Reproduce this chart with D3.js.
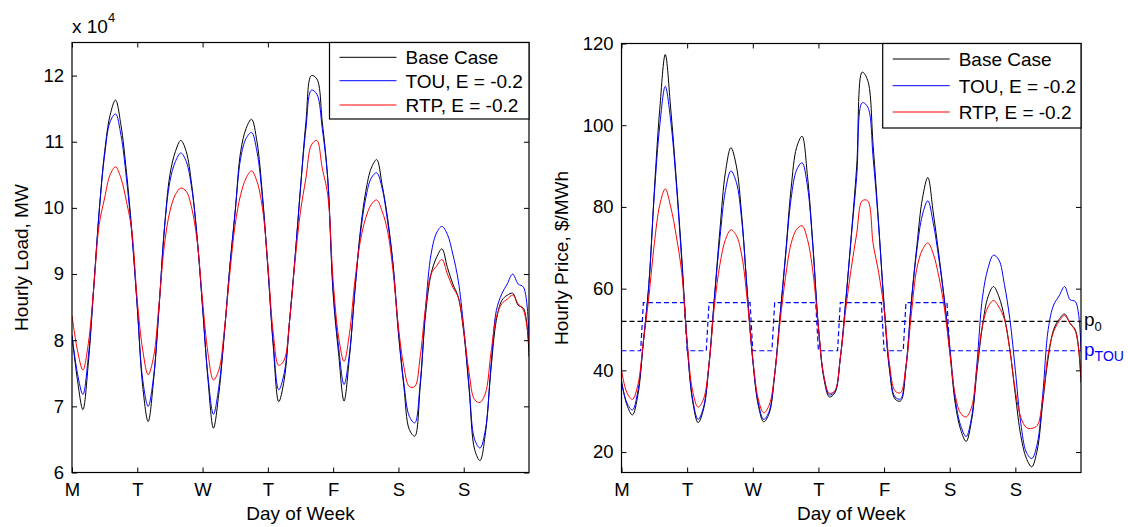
<!DOCTYPE html>
<html>
<head>
<meta charset="utf-8">
<script src="https://cdn.jsdelivr.net/npm/d3@7"></script>
<style>
  body { margin: 0; background: #fff; }
  svg text { font-family: "Liberation Sans", Arial, sans-serif; fill: #000; }
</style>
</head>
<body>
<div id="chart"></div>
<script>
var width = 1128;
var height = 527;

var dayLabels = ["M", "T", "W", "T", "F", "S", "S"];
var dayTicks = [0, 24, 48, 72, 96, 120, 144];
var hours = d3.range(0, 169, 2); // values read every 2 hours

var seriesNames = ["Base Case", "TOU, E = -0.2", "RTP, E = -0.2"];
var seriesColors = ["#000000", "#0000ff", "#ff0000"];

// hourly load, x 10^4 MW (one row per day)
var baseLoad = [
  8.07, 7.4, 6.95, 7.65, 8.8, 9.95, 10.85, 11.4, 11.63, 11.25, 10.55, 9.65,
  8.5, 7.3, 6.77, 7.4, 8.5, 9.7, 10.5, 10.85, 11.02, 10.85, 10.35, 9.55,
  8.5, 7.4, 6.67, 7.2, 8.1, 9.1, 9.95, 10.85, 11.2, 11.34, 11.0, 10.2,
  9.1, 7.9, 7.07, 7.4, 8.3, 9.25, 10.3, 11.3, 12.0, 11.95, 11.3, 10.45,
  8.7, 7.8, 7.08, 7.75, 8.75, 9.65, 10.25, 10.6, 10.73, 10.35, 9.85, 9.15,
  8.1, 7.3, 6.65, 6.55, 7.3, 8.4, 9.0, 9.25, 9.38, 9.1, 8.85, 8.65,
  8.12, 7.25, 6.35, 6.18, 6.6, 7.55, 8.3, 8.6, 8.68, 8.71, 8.53, 8.48,
  7.75
];
var touLoad = [
  8.07, 7.5, 7.18, 7.75, 8.8, 9.95, 10.8, 11.3, 11.42, 11.1, 10.45, 9.6,
  8.5, 7.4, 7.0, 7.45, 8.5, 9.7, 10.4, 10.7, 10.83, 10.7, 10.3, 9.55,
  8.5, 7.45, 6.88, 7.3, 8.1, 9.1, 9.95, 10.75, 11.05, 11.14, 10.85, 10.15,
  9.1, 7.95, 7.25, 7.5, 8.3, 9.25, 10.3, 11.2, 11.78, 11.72, 11.2, 10.45,
  8.75, 7.9, 7.33, 7.8, 8.75, 9.6, 10.15, 10.45, 10.53, 10.3, 9.8, 9.15,
  8.15, 7.35, 6.85, 6.75, 7.35, 8.5, 9.3, 9.62, 9.72, 9.6, 9.3, 8.9,
  8.2, 7.3, 6.5, 6.37, 6.65, 7.6, 8.45, 8.7, 8.85, 9.0, 8.85, 8.8,
  8.0
];
var rtpLoad = [
  8.37, 7.85, 7.55, 7.95, 8.8, 9.75, 10.15, 10.5, 10.62, 10.45, 10.1, 9.65,
  8.6, 7.85, 7.48, 7.75, 8.55, 9.45, 9.95, 10.2, 10.3, 10.25, 10.0, 9.5,
  8.6, 7.8, 7.4, 7.55, 8.15, 9.0, 9.75, 10.2, 10.45, 10.56, 10.4, 10.0,
  9.15, 8.1, 7.62, 7.7, 8.3, 9.2, 9.95, 10.45, 10.95, 11.02, 10.6, 10.2,
  8.9, 8.05, 7.68, 8.1, 8.9, 9.5, 9.85, 10.05, 10.12, 9.95, 9.65, 9.05,
  8.2, 7.6, 7.3, 7.3, 7.75, 8.5, 9.0, 9.12, 9.22, 9.0, 8.8, 8.65,
  8.15, 7.5, 7.1, 7.06, 7.2, 7.8, 8.35, 8.55, 8.62, 8.68, 8.55, 8.45,
  7.94
];

// hourly price, $/MWh
var basePrice = [
  37.5, 31.5, 29.1, 34, 47, 61, 84, 104, 117.3, 104, 87, 68,
  46.5, 32.5, 27.2, 30.5, 41.5, 58, 74.5, 88.5, 94.5, 90, 77.5, 59,
  42.5, 31.5, 27.4, 29.5, 39, 53.5, 68.5, 84.5, 94.5, 97.3, 87.5, 70.5,
  50.5, 38, 33.5, 34.5, 43, 57, 73, 90, 113, 111, 95, 76,
  56, 40, 33, 32.5, 40.5, 57, 70.5, 82, 87.2, 78.5, 68.5, 57.5,
  45, 32, 25.5, 22.6, 27.8, 40, 51, 58, 60.5, 58, 53, 45,
  34, 24, 18.5, 16.4, 20.5, 32, 43, 50, 52.5, 53.8, 51.5, 49.8,
  37
];
var touPrice = [
  37, 32, 30.3, 35, 47, 61, 83, 100, 109.5, 101, 86, 67,
  46.5, 33, 28, 31, 41.5, 58, 72.5, 84, 88.8, 86, 76.5, 59,
  42.5, 32, 28, 30, 39, 53.5, 68, 82, 89, 90.8, 85, 70,
  50.5, 38.5, 34, 34.8, 43, 57, 72.5, 87.5, 105.5, 104.5, 92, 75.5,
  56, 40.5, 33.5, 33, 41, 57, 69.5, 78, 81.5, 76, 67.5, 57.5,
  46, 33, 26.5, 23.8, 28.5, 42, 58, 65, 68.2, 67, 61, 52.5,
  40, 27, 20, 18.4, 22, 34, 50, 56, 58.2, 60.5, 57.3, 56.8,
  45
];
var rtpPrice = [
  40, 34.5, 32.9, 36.5, 47, 58, 71, 80.5, 84.4, 80, 73, 64,
  47, 35, 31, 33, 41.5, 56, 66, 72, 74.4, 73, 68, 57,
  43, 33, 29.6, 31.5, 39, 52, 63, 71, 74.5, 75.4, 72, 64,
  50.5, 38.5, 34.4, 35, 43, 55, 65, 73.5, 81.5, 81.5, 71, 64,
  55, 41.5, 35, 34.5, 41, 54, 65, 69.5, 71.2, 68.5, 63, 55.5,
  44.5, 34, 29.5, 28.6, 31, 41, 51, 55.5, 57.1, 55.5, 52.5, 45,
  35, 28.5, 26, 25.8, 26.5, 33, 44, 49.5, 52, 53.4, 51.5, 49.5,
  38
];

// flat base price and the TOU tariff (on-peak hours, weekdays)
var p0 = 52;
var touLow = 44.8;
var touHigh = 56.6;
var touPeakStart = [7, 31, 55, 79, 103];
var touPeakEnd = [23, 47, 71, 95, 119];

var svg = d3.select("#chart")
  .append("svg")
    .attr("width", width)
    .attr("height", height);

function drawPanel(cfg) {
  var x = d3.scaleLinear().domain([0, 168]).range([cfg.left, cfg.right]);
  var y = d3.scaleLinear().domain(cfg.yDomain).range([cfg.bottom, cfg.top]);
  var g = svg.append("g");

  var clipId = "clip" + cfg.id;
  g.append("clipPath").attr("id", clipId)
    .append("rect")
      .attr("x", cfg.left).attr("y", cfg.top)
      .attr("width", cfg.right - cfg.left).attr("height", cfg.bottom - cfg.top);

  var plot = g.append("g").attr("clip-path", "url(#" + clipId + ")");

  if (cfg.extra) cfg.extra(plot, x, y);

  var line = d3.line()
    .x(function(d, i) { return x(hours[i]); })
    .y(function(d) { return y(d); })
    .curve(d3.curveCatmullRom.alpha(0.5));

  cfg.series.forEach(function(s, i) {
    plot.append("path")
      .datum(s)
      .attr("fill", "none")
      .attr("stroke", seriesColors[i])
      .attr("stroke-width", 1)
      .attr("d", line);
  });

  // axes with inward ticks on all four sides
  g.append("g")
    .attr("transform", "translate(0," + cfg.bottom + ")")
    .call(d3.axisBottom(x).tickValues(dayTicks)
      .tickFormat(function(d, i) { return dayLabels[i]; })
      .tickSizeInner(-5).tickSizeOuter(0).tickPadding(10.5));
  g.append("g")
    .attr("transform", "translate(0," + cfg.top + ")")
    .call(d3.axisTop(x).tickValues(dayTicks).tickFormat("")
      .tickSizeInner(-5).tickSizeOuter(0));
  g.append("g")
    .attr("transform", "translate(" + cfg.left + ",0)")
    .call(d3.axisLeft(y).tickValues(cfg.yTicks).tickFormat(d3.format("d"))
      .tickSizeInner(-5).tickSizeOuter(0).tickPadding(8));
  g.append("g")
    .attr("transform", "translate(" + cfg.right + ",0)")
    .call(d3.axisRight(y).tickValues(cfg.yTicks).tickFormat("")
      .tickSizeInner(-5).tickSizeOuter(0));

  g.selectAll(".domain").remove();
  g.selectAll(".tick line").attr("stroke", "#000");
  g.selectAll(".tick text").style("font-size", "18.5px").attr("fill", "#000");

  g.append("rect")
    .attr("x", cfg.left).attr("y", cfg.top)
    .attr("width", cfg.right - cfg.left).attr("height", cfg.bottom - cfg.top)
    .attr("fill", "none").attr("stroke", "#000").attr("stroke-width", 1.2);

  g.append("text")
    .attr("x", (cfg.left + cfg.right) / 2)
    .attr("y", 520)
    .attr("text-anchor", "middle")
    .style("font-size", "19px")
    .text("Day of Week");

  g.append("text")
    .attr("transform", "translate(" + cfg.yLabelX + "," + ((cfg.top + cfg.bottom) / 2) + ") rotate(-90)")
    .attr("text-anchor", "middle")
    .style("font-size", "19px")
    .text(cfg.yLabel);

  // legend
  var lg = cfg.legend;
  var leg = g.append("g").attr("transform", "translate(" + lg.x + "," + lg.y + ")");
  leg.append("rect")
    .attr("width", cfg.right - lg.x).attr("height", lg.h)
    .attr("fill", "#fff").attr("stroke", "#000").attr("stroke-width", 1.2);
  seriesNames.forEach(function(name, i) {
    var ry = lg.rows[i];
    leg.append("line")
      .attr("x1", 10).attr("x2", 67).attr("y1", ry).attr("y2", ry)
      .attr("stroke", seriesColors[i]).attr("stroke-width", 1);
    leg.append("text")
      .attr("x", 76).attr("y", ry + 7)
      .style("font-size", "19px")
      .text(name);
  });

  return { g: g, x: x, y: y };
}

// left panel: load
var loadPanel = drawPanel({
  id: "load",
  left: 72, right: 529, top: 42.5, bottom: 472.5,
  yDomain: [6, 12.5],
  yTicks: [6, 7, 8, 9, 10, 11, 12],
  yLabel: "Hourly Load, MW",
  yLabelX: 28,
  series: [baseLoad, touLoad, rtpLoad],
  legend: { x: 329.5, y: 42.5, h: 76.5, rows: [14.8, 38.2, 62.5] }
});

var expo = loadPanel.g.append("text")
  .attr("x", 72).attr("y", 33)
  .style("font-size", "19px")
  .text("x 10");
expo.append("tspan")
  .attr("dy", -11)
  .style("font-size", "13px")
  .text("4");

// right panel: price
var pricePanel = drawPanel({
  id: "price",
  left: 621.5, right: 1081, top: 43.5, bottom: 472.5,
  yDomain: [15, 120],
  yTicks: [20, 40, 60, 80, 100, 120],
  yLabel: "Hourly Price, $/MWh",
  yLabelX: 568,
  series: [basePrice, touPrice, rtpPrice],
  legend: { x: 882.7, y: 43.5, h: 84.5, rows: [15.5, 42.2, 68.5] },
  extra: function(plot, x, y) {
    plot.append("line")
      .attr("x1", x(0)).attr("x2", x(168))
      .attr("y1", y(p0)).attr("y2", y(p0))
      .attr("stroke", "#000").attr("stroke-width", 1.2)
      .attr("stroke-dasharray", "5,3");

    var pts = [[0, touLow]];
    touPeakStart.forEach(function(s, i) {
      pts.push([s, touLow], [s + 1, touHigh], [touPeakEnd[i], touHigh], [touPeakEnd[i] + 1, touLow]);
    });
    pts.push([168, touLow]);
    plot.append("path")
      .datum(pts)
      .attr("fill", "none")
      .attr("stroke", "#0000ff").attr("stroke-width", 1.2)
      .attr("stroke-dasharray", "5,3")
      .attr("d", d3.line()
        .x(function(d) { return x(d[0]); })
        .y(function(d) { return y(d[1]); }));
  }
});

var pLab = pricePanel.g.append("text")
  .attr("x", 1084).attr("y", pricePanel.y(p0) + 5)
  .style("font-size", "19px")
  .text("p");
pLab.append("tspan").attr("dy", 5).style("font-size", "13px").text("0");

var pTou = pricePanel.g.append("text")
  .attr("x", 1084).attr("y", pricePanel.y(touLow) + 5.5)
  .style("font-size", "19px")
  .style("fill", "#0000ff")
  .text("p");
pTou.append("tspan").attr("dy", 5).style("font-size", "14px").text("TOU");
</script>
</body>
</html>
